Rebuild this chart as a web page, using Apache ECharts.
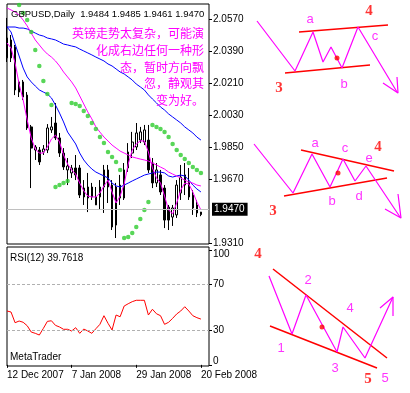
<!DOCTYPE html>
<html><head><meta charset="utf-8">
<script src="https://cdn.jsdelivr.net/npm/echarts@6/dist/echarts.min.js"></script>
<style>html,body{margin:0;padding:0;background:#fff}#c{width:410px;height:393px}</style>
</head><body><div id="c"></div>
<script>
const dates = ['12 Dec 2007','13 Dec 2007','14 Dec 2007','17 Dec 2007','18 Dec 2007','19 Dec 2007','20 Dec 2007','21 Dec 2007','24 Dec 2007','26 Dec 2007','27 Dec 2007','28 Dec 2007','31 Dec 2007','2 Jan 2008','3 Jan 2008','4 Jan 2008','7 Jan 2008','8 Jan 2008','9 Jan 2008','10 Jan 2008','11 Jan 2008','14 Jan 2008','15 Jan 2008','16 Jan 2008','17 Jan 2008','18 Jan 2008','21 Jan 2008','22 Jan 2008','23 Jan 2008','24 Jan 2008','25 Jan 2008','28 Jan 2008','29 Jan 2008','30 Jan 2008','31 Jan 2008','1 Feb 2008','4 Feb 2008','5 Feb 2008','6 Feb 2008','7 Feb 2008','8 Feb 2008','11 Feb 2008','12 Feb 2008','13 Feb 2008','14 Feb 2008','15 Feb 2008','18 Feb 2008','19 Feb 2008','20 Feb 2008'];
const dateTickIdx = [0,16,32,48];
const opens  = [2.0351,2.0452,2.0413,2.0159,2.0216,2.0142,1.9963,1.9833,1.9833,1.9822,1.9833,1.9946,1.9985,1.9901,1.9816,1.9721,1.9704,1.9732,1.9732,1.9619,1.9625,1.9569,1.9524,1.9569,1.9625,1.9625,1.9636,1.9411,1.9636,1.9563,1.9732,1.9816,1.9850,1.9889,1.9878,1.9889,1.9760,1.9648,1.9693,1.9619,1.9512,1.9456,1.9468,1.9591,1.9636,1.9653,1.9580,1.9524,1.9484];
const closes = [2.0463,2.0351,2.0171,2.0216,2.0131,1.9957,1.9844,1.9850,1.9766,1.9839,1.9957,1.9963,1.9901,1.9816,1.9738,1.9743,1.9732,1.9693,1.9580,1.9569,1.9563,1.9625,1.9569,1.9625,1.9721,1.9721,1.9400,1.9625,1.9563,1.9721,1.9822,1.9878,1.9929,1.9935,1.9946,1.9721,1.9648,1.9721,1.9597,1.9439,1.9439,1.9507,1.9636,1.9681,1.9693,1.9569,1.9507,1.9479,1.9470];
const lows   = [2.0328,2.0328,2.0142,2.0131,2.0114,1.9946,1.9619,1.9777,1.9749,1.9805,1.9816,1.9929,1.9889,1.9794,1.9721,1.9636,1.9676,1.9664,1.9563,1.9524,1.9484,1.9552,1.9524,1.9496,1.9479,1.9535,1.9383,1.9338,1.9524,1.9552,1.9710,1.9788,1.9833,1.9872,1.9861,1.9704,1.9619,1.9625,1.9580,1.9394,1.9383,1.9406,1.9451,1.9552,1.9580,1.9552,1.9468,1.9456,1.9461];
const highs  = [2.0576,2.0480,2.0424,2.0227,2.0227,2.0159,1.9974,1.9861,1.9850,1.9861,1.9979,2.0019,2.0097,1.9929,1.9844,1.9788,1.9749,1.9805,1.9749,1.9664,1.9704,1.9648,1.9625,1.9664,1.9749,1.9749,1.9664,1.9648,1.9693,1.9760,1.9872,1.9935,1.9985,1.9963,1.9974,1.9974,1.9788,1.9760,1.9721,1.9636,1.9524,1.9524,1.9664,1.9749,1.9760,1.9732,1.9608,1.9552,1.9485];
const magentaFast = [2.0435,2.0407,2.0322,2.0204,2.0114,2.0002,1.9901,1.9839,1.9816,1.9816,1.9850,1.9895,1.9917,1.9878,1.9805,1.9754,1.9721,1.9698,1.9647,1.9603,1.9574,1.9569,1.9569,1.9591,1.9631,1.9664,1.9597,1.9535,1.9574,1.9642,1.9754,1.9833,1.9867,1.9884,1.9884,1.9822,1.9732,1.9676,1.9647,1.9574,1.9496,1.9473,1.9535,1.9608,1.9647,1.9642,1.9597,1.9541,1.9496];
const magentaSlow = [2.0632,2.0621,2.0609,2.0592,2.0564,2.0531,2.0491,2.0452,2.0424,2.0396,2.0373,2.0356,2.0334,2.0306,2.0272,2.0244,2.0216,2.0182,2.0137,2.0092,2.0047,2.0008,1.9963,1.9934,1.9906,1.9884,1.9861,1.9844,1.9827,1.9816,1.9805,1.9794,1.9788,1.9782,1.9777,1.9771,1.9760,1.9749,1.9737,1.9726,1.9709,1.9698,1.9687,1.9676,1.9664,1.9653,1.9647,1.9636,1.9631];
const blueFast = [2.0525,2.0497,2.0429,2.0362,2.0294,2.0244,2.0216,2.0193,2.0171,2.0159,2.0148,2.0126,2.0086,2.0041,1.9991,1.9934,1.9901,1.9867,1.9816,1.9777,1.9749,1.9726,1.9709,1.9698,1.9687,1.9676,1.9647,1.9631,1.9625,1.9636,1.9647,1.9659,1.9670,1.9681,1.9692,1.9698,1.9704,1.9709,1.9709,1.9704,1.9687,1.9681,1.9687,1.9692,1.9687,1.9664,1.9636,1.9614,1.9597];
const blueSlow = [2.0525,2.0525,2.0525,2.0519,2.0519,2.0514,2.0502,2.0491,2.0480,2.0474,2.0463,2.0458,2.0452,2.0441,2.0429,2.0424,2.0418,2.0413,2.0401,2.0390,2.0379,2.0368,2.0356,2.0345,2.0334,2.0317,2.0306,2.0289,2.0272,2.0261,2.0244,2.0227,2.0204,2.0188,2.0171,2.0143,2.0120,2.0098,2.0075,2.0058,2.0036,2.0019,2.0002,1.9985,1.9963,1.9946,1.9929,1.9906,1.9889];
const sar = [null,null,null,2.0649,2.0604,2.0564,2.0497,2.0396,2.0306,2.0221,2.0148,2.0086,1.9625,1.9636,1.9648,1.9659,2.0097,2.0092,2.0081,2.0052,2.0024,1.9985,1.9951,1.9906,1.9872,1.9822,1.9794,1.9766,1.9721,1.9338,1.9344,1.9366,1.9400,1.9445,1.9496,1.9541,1.9974,1.9963,1.9951,1.9935,1.9906,1.9867,1.9833,1.9805,1.9783,1.9760,1.9738,1.9721,1.9704];
const rsi = [46.8,45.9,36.6,38.1,37.0,34.0,28.5,27.4,25.9,31.7,37.8,38.3,34.3,32.9,30.9,30.9,29.4,32.3,27.4,31.1,29.4,27.4,31.4,35.2,42.7,36.1,30.3,43.3,41.8,51.1,53.1,54.9,56.1,56.1,56.1,43.3,48.3,44.4,42.7,35.2,37.0,40.4,44.2,46.8,50.5,46.8,42.7,41.0,39.7618];
const priceTicks = [2.0570,2.0390,2.0210,2.0030,1.9850,1.9670,1.9310];
const rsiTicks = [0,30,70,100];
const rsiLevels = [30,70];
const symbolName = 'GBPUSD,Daily';
const noteText = ['英镑走势太复杂，可能演','化成右边任何一种形','态，暂时方向飘','忽，静观其','变为好。'];

// sketch diagrams (drawing coordinates on the page)
const wave1 = [[257,21],[295,71],[313,32],[323,62],[331,47],[342,68],[358,27],[397,92]];
const arrow1 = [[383,83],[398,93],[397,77]];
const trend1Up = [[299,32],[388,25]];
const trend1Low = [[285,73],[370,65]];
const wave2 = [[254,144],[293,193],[312,154],[330,187],[343,159],[355,181],[366,166],[400,217]];
const arrow2 = [[385,209],[401,218],[398,194]];
const trend2Up = [[301,150],[394,171]];
const trend2Low = [[284,196],[387,178]];
const wave3 = [[269,276],[292,334],[306,295],[337,352],[343,327],[365,358],[393,297]];
const arrow3 = [[380,308],[393,297],[393,316]];
const trend3Up = [[273,269],[387,358]];
const trend3Low = [[270,326],[377,368]];
const dots = [[337,58],[338,173],[322,327]];
const waveLabels = [['a',310,19],['b',344,84],['c',375,36],['a',315,143],['b',332,201],['c',345,148],['d',359,196],['e',369,158],['1',281,348],['2',308,280],['3',335,368],['4',350,308],['5',385,378]];
const stageLabels = [['3',279,88],['4',369,11],['3',273,211],['4',378,147],['4',258,254],['5',368,379]];

const cats = dates.concat(['','']);
const last = opens.length - 1;
const lastClose = closes[last];
const titleText = symbolName + '  ' + [opens[last], highs[last], lows[last], closes[last]].map(v => v.toFixed(4)).join(' ');

const chart = echarts.init(document.getElementById('c'), null, {renderer: 'canvas'});
const sketchLine = (data, color, w) => ({type:'line', xAxisIndex:2, yAxisIndex:2, data, symbol:'none', silent:true, z:5, lineStyle:{color, width:w}});
const option = {
  animation: false,
  backgroundColor: '#fff',
  grid: [
    {left:7, top:4, width:202, height:240, show:true, borderColor:'#000', borderWidth:1, backgroundColor:'#fff'},
    {left:7, top:247, width:202, height:119, show:true, borderColor:'#000', borderWidth:1, backgroundColor:'#fff'},
    {left:0, top:0, width:410, height:393, show:false}
  ],
  xAxis: [
    {type:'category', gridIndex:0, data:cats, boundaryGap:false, show:false},
    {type:'category', gridIndex:1, data:cats, boundaryGap:false,
     axisLine:{show:false},
     axisTick:{show:true, length:3, interval:(i)=>dateTickIdx.includes(i), lineStyle:{color:'#000'}},
     axisLabel:{show:true, interval:(i)=>dateTickIdx.includes(i), align:'left', margin:4, color:'#000', fontSize:10, fontFamily:'Liberation Sans, Arial'},
     splitLine:{show:false}},
    {type:'value', gridIndex:2, min:0, max:410, show:false}
  ],
  yAxis: [
    {type:'value', gridIndex:0, position:'right', min:1.93044, max:2.06544, scale:true,
     axisLine:{show:false}, splitLine:{show:false},
     axisTick:{show:true, length:3, customValues:priceTicks, lineStyle:{color:'#000'}},
     axisLabel:{show:true, customValues:priceTicks, formatter:v=>v.toFixed(4), margin:4, color:'#000', fontSize:10, fontFamily:'Liberation Sans, Arial'}},
    {type:'value', gridIndex:1, position:'right', min:-1, max:102.4,
     axisLine:{show:false}, splitLine:{show:false},
     axisTick:{show:true, length:3, customValues:rsiTicks, lineStyle:{color:'#000'}},
     axisLabel:{show:true, customValues:rsiTicks, margin:4, color:'#000', fontSize:10, fontFamily:'Liberation Sans, Arial',
       formatter:v=> v===100 ? '{t|100}' : (v===0 ? '{b|0}' : String(v)),
       rich:{t:{padding:[8,0,0,0], fontSize:10, fontFamily:'Liberation Sans, Arial', color:'#000'}, b:{padding:[0,0,8,0], fontSize:10, fontFamily:'Liberation Sans, Arial', color:'#000'}}}},
    {type:'value', gridIndex:2, min:0, max:393, inverse:true, show:false}
  ],
  series: [
    {type:'line', xAxisIndex:0, yAxisIndex:0, data:[], z:1, silent:true,
     markLine:{symbol:'none', silent:true, data:[{yAxis:lastClose}], lineStyle:{color:'#c0c0c0', width:1, type:'solid'},
       label:{show:true, position:'end', distance:3, formatter:lastClose.toFixed(4), backgroundColor:'#000', color:'#fff', fontSize:10, fontFamily:'Liberation Sans, Arial', padding:[2,3,1,2]}}},
    {type:'candlestick', xAxisIndex:0, yAxisIndex:0, z:2, barMaxWidth:3,
     data: opens.map((o,i)=>[o, closes[i], lows[i], highs[i]]),
     itemStyle:{color:'#fff', color0:'#000', borderColor:'#000', borderColor0:'#000', borderWidth:1}},
    {type:'line', xAxisIndex:0, yAxisIndex:0, data:blueSlow, symbol:'none', z:3, lineStyle:{color:'#0000ff', width:1}},
    {type:'line', xAxisIndex:0, yAxisIndex:0, data:blueFast, symbol:'none', z:3, lineStyle:{color:'#0000ff', width:1}},
    {type:'line', xAxisIndex:0, yAxisIndex:0, data:magentaSlow, symbol:'none', z:3, lineStyle:{color:'#ff00ff', width:1}},
    {type:'line', xAxisIndex:0, yAxisIndex:0, data:magentaFast, symbol:'none', z:3, lineStyle:{color:'#ff00ff', width:1}},
    {type:'scatter', xAxisIndex:0, yAxisIndex:0, data:sar, symbol:'circle', symbolSize:4.5, z:4, itemStyle:{color:'#2ecc2e'}},
    {type:'line', xAxisIndex:1, yAxisIndex:1, data:rsi, symbol:'none', z:3, lineStyle:{color:'#ff0000', width:1},
     markLine:{symbol:'none', silent:true, label:{show:false}, data:rsiLevels.map(v=>({yAxis:v})), lineStyle:{color:'#b0b0b0', width:1, type:[3,2]}}},
    sketchLine(trend1Up,'#ff0000',1.5), sketchLine(trend1Low,'#ff0000',1.5),
    sketchLine(trend2Up,'#ff0000',1.5), sketchLine(trend2Low,'#ff0000',1.5),
    sketchLine(trend3Up,'#ff0000',1.5), sketchLine(trend3Low,'#ff0000',1.5),
    sketchLine(wave1,'#ff00ff',1.2), sketchLine(arrow1,'#ff00ff',1.2),
    sketchLine(wave2,'#ff00ff',1.2), sketchLine(arrow2,'#ff00ff',1.2),
    sketchLine(wave3,'#ff00ff',1.2), sketchLine(arrow3,'#ff00ff',1.2),
    {type:'scatter', xAxisIndex:2, yAxisIndex:2, data:dots, symbolSize:5, z:6, silent:true, itemStyle:{color:'#ff0000'}},
    {type:'scatter', xAxisIndex:2, yAxisIndex:2, z:6, silent:true, symbolSize:1, itemStyle:{color:'rgba(0,0,0,0)'},
     data: waveLabels.map(d=>({name:d[0], value:[d[1],d[2]]})),
     label:{show:true, position:'inside', formatter:p=>p.name, color:'#ff00ff', fontSize:13, fontFamily:'Liberation Sans, Arial'}},
    {type:'scatter', xAxisIndex:2, yAxisIndex:2, z:6, silent:true, symbolSize:1, itemStyle:{color:'rgba(0,0,0,0)'},
     data: stageLabels.map(d=>({name:d[0], value:[d[1],d[2]]})),
     label:{show:true, position:'inside', formatter:p=>p.name, color:'#ff0000', fontSize:15, fontWeight:'bold', fontFamily:'Liberation Serif, Times New Roman'}}
  ],
  graphic: [
    {type:'text', x:11, y:9, z:10, style:{text:titleText, font:'9.5px "Liberation Sans", Arial', fill:'#000'}},
    {type:'text', x:204, y:25, z:10, style:{text:noteText.join('\n'), font:'12px "Noto Sans CJK SC"', fill:'#ff00ff', align:'right', lineHeight:16.8}},
    {type:'text', x:10, y:253, z:10, style:{text:'RSI(12) ' + rsi[last].toFixed(4), font:'10px "Liberation Sans", Arial', fill:'#000'}},
    {type:'text', x:10, y:352, z:10, style:{text:'MetaTrader', font:'10px "Liberation Sans", Arial', fill:'#000'}}
  ]
};
chart.setOption(option);
</script></body></html>
